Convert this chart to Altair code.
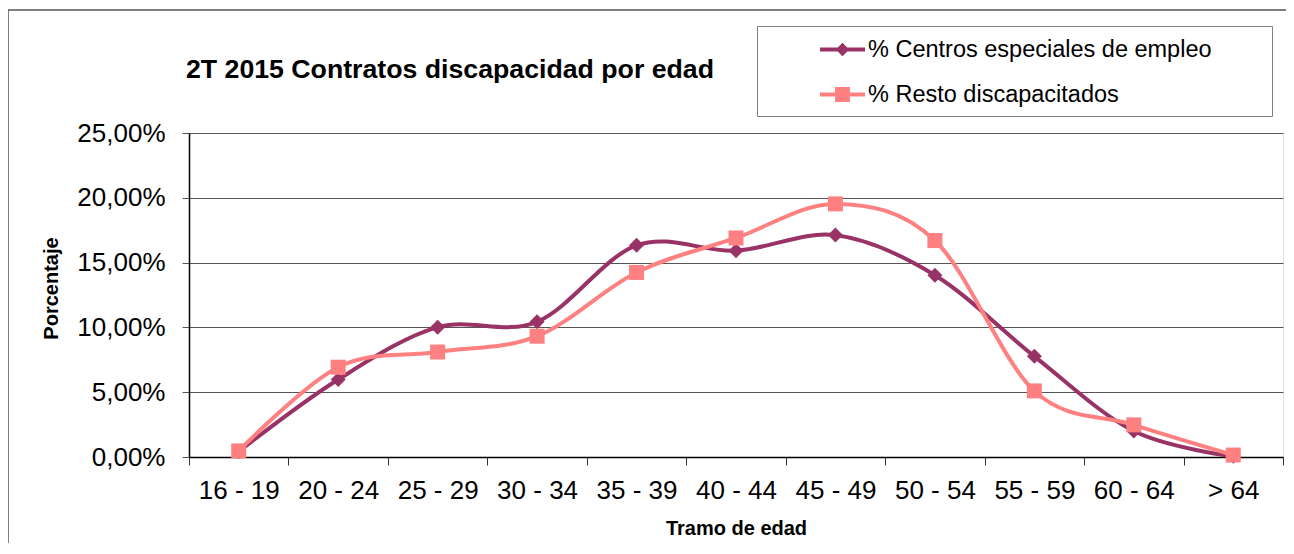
import altair as alt
import pandas as pd

# ---- data ----
tramos = ["16 - 19", "20 - 24", "25 - 29", "30 - 34", "35 - 39", "40 - 44",
          "45 - 49", "50 - 54", "55 - 59", "60 - 64", "> 64"]
centros = [0.0042, 0.0598, 0.1002, 0.1043, 0.1633, 0.1592,
           0.1712, 0.1403, 0.0777, 0.0200, 0.0005]
resto = [0.0047, 0.0693, 0.0810, 0.0932, 0.1424, 0.1690,
         0.1953, 0.1670, 0.0510, 0.0248, 0.0015]
series = ["% Centros especiales de empleo", "% Resto discapacitados"]
colores = ["#993366", "#FF8080"]
y_ticks = [0.0, 0.05, 0.10, 0.15, 0.20, 0.25]

titulo = "2T 2015 Contratos discapacidad por edad"
titulo_x = "Tramo de edad"
titulo_y = "Porcentaje"

FONT = "Liberation Sans"
W, H = 1094, 324

rows = []
for t, c, r in zip(tramos, centros, resto):
    rows.append({"tramo": t, "serie": series[0], "valor": c})
    rows.append({"tramo": t, "serie": series[1], "valor": r})
df = pd.DataFrame(rows)

x_enc = alt.X(
    "tramo:N",
    sort=tramos,
    bandPosition=0.5,
    scale=alt.Scale(type="band", paddingInner=0, paddingOuter=0),
    axis=alt.Axis(
        title=titulo_x, labelAngle=0, labelFont=FONT, labelFontSize=26,
        labelColor="#000000", labelPadding=12, tickSize=8, tickColor="#333333",
        tickBand="extent", domainColor="#000000", domainWidth=1.5, grid=False,
        titleFont=FONT, titleFontSize=20, titleFontWeight="bold",
        titleColor="#000000", titleX=W / 2, titleY=71, titleBaseline="middle",
    ),
)
y_enc = alt.Y(
    "valor:Q",
    scale=alt.Scale(domain=[0, 0.25], nice=False, zero=True),
    axis=alt.Axis(
        values=y_ticks,
        labelExpr="replace(format(datum.value, '.2%'), '.', ',')",
        labelFont=FONT, labelFontSize=26, labelColor="#000000", labelPadding=17,
        tickSize=7, tickColor="#555555", domainColor="#000000", domainWidth=1.5,
        grid=True, gridColor="#555555", gridWidth=1,
        title=titulo_y, titleFont=FONT, titleFontSize=20, titleFontWeight="bold",
        titleColor="#000000", titleAngle=270, titleX=-138, titleY=155,
        titleAlign="center", titleBaseline="middle",
    ),
)

base = alt.Chart(df)

def serie_layers(i, shape):
    sub = base.transform_filter(alt.datum.serie == series[i])
    line = sub.mark_line(interpolate="cardinal", strokeWidth=4,
                         color=colores[i]).encode(x=x_enc, y=y_enc)
    pts = sub.mark_point(shape=shape, filled=True, size=225, opacity=1,
                         color=colores[i]).encode(x=x_enc, y=y_enc)
    return [line, pts]

# frame around the whole chart (decoration)
frame = alt.Chart(pd.DataFrame({"a": [0]})).mark_rect(
    fillOpacity=0, stroke="#555555", strokeWidth=1.5
).encode(x=alt.value(-181), x2=alt.value(W + 300),
         y=alt.value(-123), y2=alt.value(H + 300))

# legend symbols: line segment + marker
sym_paths = [
    "M-1,-0.09L1,-0.09L1,0.09L-1,0.09Z M0,-0.3L0.3,0L0,0.3L-0.3,0Z",
    "M-1,-0.09L1,-0.09L1,0.09L-1,0.09Z M-0.33,-0.33L0.33,-0.33L0.33,0.33L-0.33,0.33Z",
]
pad = "\u00a0" * 9 + "\u200b"
leg = alt.Legend(
    title="\u200b", titleOrient="bottom", titleFontSize=1, titlePadding=8,
    orient="none", legendX=568, legendY=-107,
    labelFont=FONT, labelFontSize=23.5, labelColor="#000000", labelOffset=3,
    labelLimit=0,
    labelExpr="datum.label + '" + pad + "'",
    symbolSize=2025, symbolStrokeWidth=0, symbolOpacity=1, symbolOffset=62,
    rowPadding=11, padding=1, strokeColor="#808080", fillColor="#FFFFFF",
    cornerRadius=0,
)
legend_layer = base.transform_filter("false").mark_point(filled=True, opacity=1).encode(
    x=x_enc, y=y_enc,
    color=alt.Color("serie:N", scale=alt.Scale(domain=series, range=colores), legend=leg),
    shape=alt.Shape("serie:N", scale=alt.Scale(domain=series, range=sym_paths), legend=leg),
)

layers = [frame] + serie_layers(0, "diamond") + serie_layers(1, "square") + [legend_layer]

chart = alt.layer(*layers).properties(
    width=W, height=H,
    title=alt.Title(titulo, anchor="start", frame="group", dx=-3, offset=-95,
                    baseline="alphabetic", font=FONT, fontSize=26.7,
                    fontWeight="bold", color="#000000"),
    autosize=alt.AutoSizeParams(type="none"),
    padding={"left": 181, "top": 125, "right": 3, "bottom": 86},
).configure_view(
    fill="#FFFFCC", stroke="#808080", strokeWidth=2
).configure(background="#FFFFFF")

chart.save("out.html", embed_options={"renderer": "svg", "actions": False})
